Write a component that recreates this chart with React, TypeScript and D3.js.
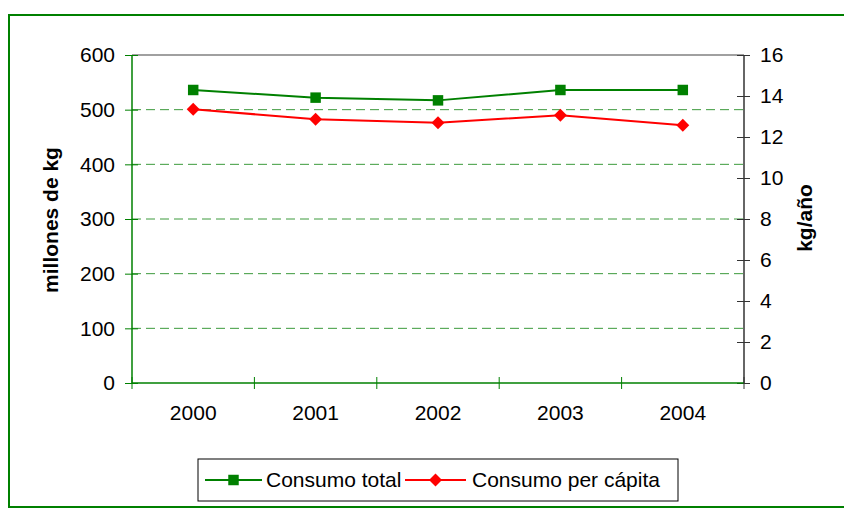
import React, { useEffect, useRef } from 'react';
import * as d3 from 'd3';

const years = ['2000', '2001', '2002', '2003', '2004'];
const consumoTotal = [536, 522, 517, 536, 536];
const consumoPerCapita = [13.35, 12.87, 12.7, 13.06, 12.57];
const leftTicks = [0, 100, 200, 300, 400, 500, 600];
const rightTicks = [0, 2, 4, 6, 8, 10, 12, 14, 16];
const seriesNames = ['Consumo total', 'Consumo per cápita'];

const W = 844, H = 509;
const GREEN = '#008000';
const RED = '#ff0000';
const FONT = '"Liberation Sans", Arial, sans-serif';

export default function App() {
    const ref = useRef<SVGSVGElement>(null);

    useEffect(() => {
        const svg = d3.select(ref.current);
        svg.selectAll('*').remove();

        const left = 132, right = 744, top = 55, bottom = 383;

        const x = d3.scaleBand().domain(years).range([left, right]);
        const yL = d3.scaleLinear().domain([0, 600]).range([bottom, top]);
        const yR = d3.scaleLinear().domain([0, 16]).range([bottom, top]);

        // marco exterior
        svg.append('rect')
            .attr('x', 9).attr('y', 15)
            .attr('width', W).attr('height', 492)
            .attr('fill', 'white')
            .attr('stroke', GREEN)
            .attr('stroke-width', 2);

        // borde gris arriba
        svg.append('line')
            .attr('x1', left).attr('x2', right)
            .attr('y1', top).attr('y2', top)
            .style('stroke', '#808080').style('stroke-width', 1.5);

        // lineas de guia
        leftTicks.filter(d => d > 0 && d < 600).forEach(d => {
            svg.append('line')
                .attr('x1', left).attr('x2', right)
                .attr('y1', yL(d)).attr('y2', yL(d))
                .style('stroke', '#3c9a3c')
                .style('stroke-width', 1)
                .style('stroke-dasharray', '9,5');
        });

        // eje izquierdo
        const gL = svg.append('g')
            .attr('transform', `translate(${left},0)`)
            .call(d3.axisLeft(yL).tickValues(leftTicks).tickSize(6).tickPadding(11));
        gL.select('.domain').attr('stroke', GREEN).attr('stroke-width', 1.5).attr('d', `M0,${top}V${bottom}`);
        gL.selectAll('.tick line').attr('stroke', GREEN).attr('x1', 6).attr('x2', -7);
        gL.selectAll('.tick text')
            .attr('fill', 'black').style('font-family', FONT).style('font-size', '21px');

        // eje derecho
        const gR = svg.append('g')
            .attr('transform', `translate(${right},0)`)
            .call(d3.axisRight(yR).tickValues(rightTicks).tickSize(6).tickPadding(10));
        gR.select('.domain').attr('stroke', '#333').attr('stroke-width', 1.5).attr('d', `M0,${top}V${bottom}`);
        gR.selectAll('.tick line').attr('stroke', '#333').attr('x1', -7).attr('x2', 6);
        gR.selectAll('.tick text')
            .attr('fill', 'black').style('font-family', FONT).style('font-size', '21px');

        // eje x
        const gX = svg.append('g')
            .attr('transform', `translate(0,${bottom})`)
            .call(d3.axisBottom(x).tickSize(0).tickPadding(22));
        gX.select('.domain').attr('stroke', GREEN).attr('stroke-width', 1.5).attr('d', `M${left},0H${right}`);
        gX.selectAll('.tick text')
            .attr('fill', 'black').style('font-family', FONT).style('font-size', '21px');
        for (let i = 0; i <= years.length; i++) {
            const xx = left + i * x.step();
            gX.append('line')
                .attr('x1', xx).attr('x2', xx)
                .attr('y1', -6).attr('y2', 6)
                .style('stroke', i === years.length ? '#333' : GREEN)
                .style('stroke-width', 1);
        }

        const cx = (d: string) => (x(d) as number) + x.bandwidth() / 2;

        // serie total
        const lineL = d3.line<number>().x((d, i) => cx(years[i])).y(d => yL(d));
        svg.append('path')
            .attr('d', lineL(consumoTotal))
            .attr('fill', 'none')
            .attr('stroke', GREEN)
            .attr('stroke-width', 2);

        // serie per capita
        const lineR = d3.line<number>().x((d, i) => cx(years[i])).y(d => yR(d));
        svg.append('path')
            .attr('d', lineR(consumoPerCapita))
            .attr('fill', 'none')
            .attr('stroke', RED)
            .attr('stroke-width', 2);

        const square = d3.symbol().type(d3.symbolSquare).size(110);
        const diamond = d3.symbol().type(d3.symbolSquare).size(84);

        consumoTotal.forEach((d, i) => {
            svg.append('path')
                .attr('d', square())
                .attr('transform', `translate(${cx(years[i])},${yL(d)})`)
                .attr('fill', GREEN);
        });
        consumoPerCapita.forEach((d, i) => {
            svg.append('path')
                .attr('d', diamond())
                .attr('transform', `translate(${cx(years[i])},${yR(d)}) rotate(45)`)
                .attr('fill', RED);
        });

        // titulos
        svg.append('text')
            .attr('transform', 'translate(58,220) rotate(-90)')
            .attr('text-anchor', 'middle')
            .style('font-family', FONT).style('font-size', '21px').style('font-weight', 'bold')
            .text('millones de kg');
        svg.append('text')
            .attr('transform', 'translate(812,218) rotate(-90)')
            .attr('text-anchor', 'middle')
            .style('font-family', FONT).style('font-size', '21px').style('font-weight', 'bold')
            .text('kg/año');

        // leyenda
        const lg = svg.append('g');
        lg.append('rect')
            .attr('x', 198).attr('y', 459).attr('width', 480).attr('height', 42)
            .attr('fill', 'white').attr('stroke', 'black').attr('stroke-width', 1);

        const items = [
            { x0: 205, x1: 262, tx: 266, color: GREEN, sym: square, rot: 0 },
            { x0: 405, x1: 466, tx: 472, color: RED, sym: diamond, rot: 45 },
        ];
        items.forEach((it, i) => {
            lg.append('line')
                .attr('x1', it.x0).attr('x2', it.x1)
                .attr('y1', 480).attr('y2', 480)
                .style('stroke', it.color).style('stroke-width', 2);
            lg.append('path')
                .attr('d', it.sym())
                .attr('transform', `translate(${(it.x0 + it.x1) / 2},480) rotate(${it.rot})`)
                .attr('fill', it.color);
            lg.append('text')
                .attr('x', it.tx).attr('y', 487)
                .style('font-family', FONT).style('font-size', '21px')
                .text(seriesNames[i]);
        });
    }, []);

    return (
        <svg ref={ref} width={W} height={H}
            style={{ position: 'absolute', left: 0, top: 0, display: 'block', background: 'white' }} />
    );
}
